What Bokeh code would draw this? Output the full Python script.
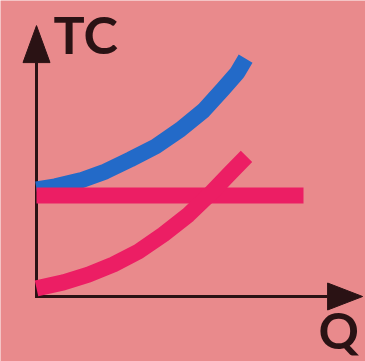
from bokeh.plotting import figure
from bokeh.models import Range1d, Label
from bokeh.embed import file_html
from bokeh.resources import INLINE

# ---- data (Q, TC in chart units) ----
tc_q = [0.0, 0.63, 1.47, 2.3, 3.13, 3.97, 4.8, 5.57, 6.23, 6.7, 6.97]
tc_v = [3.57, 3.67, 3.87, 4.17, 4.57, 5.0, 5.57, 6.2, 6.93, 7.47, 7.93]

fc_q = [0.0, 8.9]
fc_v = [3.37, 3.37]

vc_q = [0.0, 0.9, 1.73, 2.57, 3.4, 4.23, 5.07, 5.8, 6.47, 7.0]
vc_v = [0.27, 0.47, 0.73, 1.07, 1.5, 2.07, 2.73, 3.43, 4.13, 4.67]

y_axis_end = 9.03
x_axis_end = 10.87
y_label = "TC"
x_label = "Q"

# ---- styles ----
BG = "#e98a8c"
BLUE = "#236ac8"
RED = "#ec1e64"
AXIS = "#2a1214"
PX = 30.0  # pixels per chart unit
W, H = 365, 361
OX, OY = 36, 296  # where the origin sits, in pixels

p = figure(width=W, height=H, output_backend="svg", toolbar_location=None,
           x_range=Range1d(-OX / PX, (W - OX) / PX),
           y_range=Range1d(-(H - OY) / PX, OY / PX),
           min_border=0, min_border_left=0, min_border_right=0,
           min_border_top=0, min_border_bottom=0)
p.axis.visible = False
p.grid.visible = False
p.outline_line_color = None
p.background_fill_color = BG
p.border_fill_color = BG

# axes with arrow heads
yl = 37 / PX
yw = 13.5 / PX
xl = 35 / PX
xw = 13.5 / PX
p.line([0, 0, x_axis_end - xl], [y_axis_end - yl, 0, 0], line_color=AXIS,
       line_width=3, line_join="miter")
p.patch([0, -yw, yw], [y_axis_end, y_axis_end - yl, y_axis_end - yl],
        fill_color=AXIS, line_color=AXIS)
p.patch([x_axis_end, x_axis_end - xl, x_axis_end - xl], [0, xw, -xw],
        fill_color=AXIS, line_color=AXIS)

# curves
p.line(tc_q, tc_v, line_color=BLUE, line_width=16, line_cap="butt", line_join="round")
p.line(fc_q, fc_v, line_color=RED, line_width=16, line_cap="butt")
p.line(vc_q, vc_v, line_color=RED, line_width=16, line_cap="butt", line_join="round")

shift = 20 / PX
p.add_layout(Label(x=17 / PX, y=(OY - 53) / PX + shift, text=y_label, text_font="Lato",
                   text_font_style="bold", text_font_size="52px",
                   text_color=AXIS, text_baseline="alphabetic"))
p.add_layout(Label(x=(318 - OX) / PX, y=(OY - 349) / PX + shift, text=x_label,
                   text_font="Lato", text_font_style="bold", text_font_size="50px",
                   text_color=AXIS, text_baseline="alphabetic"))

open("out.html", "w").write(file_html(p, INLINE))
